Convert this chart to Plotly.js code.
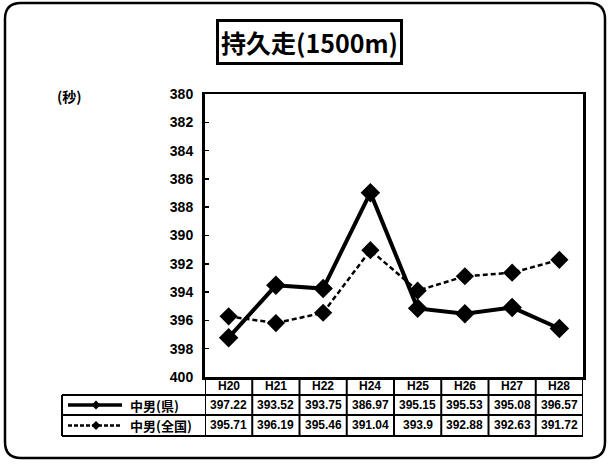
<!DOCTYPE html>
<html>
<head>
<meta charset="utf-8">
<script src="https://cdn.plot.ly/plotly-3.0.1.min.js"></script>
<style>html,body{margin:0;padding:0;background:#fff;}#chart{width:609px;height:465px;}</style>
</head>
<body>
<div id="chart"></div>
<script>
var categories = ["H20", "H21", "H22", "H24", "H25", "H26", "H27", "H28"];
var seriesNames = ["中男(県)", "中男(全国)"];
var prefValues = [397.22, 393.52, 393.75, 386.97, 395.15, 395.53, 395.08, 396.57];
var nationalValues = [395.71, 396.19, 395.46, 391.04, 393.9, 392.88, 392.63, 391.72];
var yTicks = [380, 382, 384, 386, 388, 390, 392, 394, 396, 398, 400];
var chartTitle = "持久走(1500m)";
var unitLabel = "(秒)";

// pixel geometry helpers
var L = 205, R = 583, T = 94, B = 377;
function px(x) { return (x - L) / (R - L); }
function py(y) { return (B - y) / (B - T); }

var FONT = "Liberation Sans, Arial, Noto Sans CJK JP, sans-serif";
var CJK = "Noto Sans CJK JP, sans-serif";

var traces = [
  {
    x: categories, y: prefValues, name: seriesNames[0], type: "scatter", mode: "lines+markers",
    line: {color: "#000", width: 4},
    marker: {symbol: "diamond", size: 15, color: "#000"},
    cliponaxis: false
  },
  {
    x: categories, y: nationalValues, name: seriesNames[1], type: "scatter", mode: "lines+markers",
    line: {color: "#000", width: 2.5, dash: "5px,3px"},
    marker: {symbol: "diamond", size: 14, color: "#000"},
    cliponaxis: false
  }
];

var shapes = [];
var annotations = [];

// outer rounded frame
(function () {
  var x0 = 5, y0 = 3, x1 = 605, y1 = 458, r = 16;
  var p = "M " + px(x0 + r) + "," + py(y0) +
    " L " + px(x1 - r) + "," + py(y0) +
    " Q " + px(x1) + "," + py(y0) + " " + px(x1) + "," + py(y0 + r) +
    " L " + px(x1) + "," + py(y1 - r) +
    " Q " + px(x1) + "," + py(y1) + " " + px(x1 - r) + "," + py(y1) +
    " L " + px(x0 + r) + "," + py(y1) +
    " Q " + px(x0) + "," + py(y1) + " " + px(x0) + "," + py(y1 - r) +
    " L " + px(x0) + "," + py(y0 + r) +
    " Q " + px(x0) + "," + py(y0) + " " + px(x0 + r) + "," + py(y0) + " Z";
  shapes.push({type: "path", xref: "paper", yref: "paper", path: p, line: {color: "#000", width: 2.5}});
})();

// table geometry
var rowY = [377, 395, 415, 436];
var tableLeft = 62;
var lw = 2;
shapes.push({type: "line", xref: "paper", yref: "paper", x0: px(tableLeft), x1: 1, y0: py(rowY[1]), y1: py(rowY[1]), line: {color: "#000", width: lw}});
shapes.push({type: "line", xref: "paper", yref: "paper", x0: px(tableLeft), x1: 1, y0: py(rowY[2]), y1: py(rowY[2]), line: {color: "#000", width: lw}});
shapes.push({type: "line", xref: "paper", yref: "paper", x0: px(tableLeft), x1: 1, y0: py(rowY[3]), y1: py(rowY[3]), line: {color: "#000", width: lw}});
shapes.push({type: "line", xref: "paper", yref: "paper", x0: px(tableLeft), x1: px(tableLeft), y0: py(rowY[1]), y1: py(rowY[3]), line: {color: "#000", width: lw}});
for (var i = 0; i <= categories.length; i++) {
  shapes.push({type: "line", xref: "x", yref: "paper", x0: i - 0.5, x1: i - 0.5, y0: 0, y1: py(rowY[3]), line: {color: "#000", width: lw}});
}

// legend samples
function legendSample(rowTop, rowBot, dash, width, size) {
  var yc = (rowTop + rowBot) / 2;
  shapes.push({type: "line", xref: "paper", yref: "paper", x0: px(68), x1: px(122), y0: py(yc), y1: py(yc), line: {color: "#000", width: width, dash: dash}});
  var cx = 96, h = size / 2;
  var p = "M " + px(cx - h) + "," + py(yc) + " L " + px(cx) + "," + py(yc - h) + " L " + px(cx + h) + "," + py(yc) + " L " + px(cx) + "," + py(yc + h) + " Z";
  shapes.push({type: "path", xref: "paper", yref: "paper", path: p, fillcolor: "#000", line: {color: "#000", width: 0}});
}
legendSample(rowY[1], rowY[2], "solid", 3.5, 9);
legendSample(rowY[2], rowY[3], "4px,2px", 2.5, 9);

annotations.push({xref: "paper", yref: "paper", x: px(128), y: py((rowY[1] + rowY[2]) / 2), xanchor: "left", yanchor: "middle", showarrow: false, text: "<b>" + seriesNames[0] + "</b>", font: {family: CJK, size: 13, color: "#000"}});
annotations.push({xref: "paper", yref: "paper", x: px(128), y: py((rowY[2] + rowY[3]) / 2), xanchor: "left", yanchor: "middle", showarrow: false, text: "<b>" + seriesNames[1] + "</b>", font: {family: CJK, size: 13, color: "#000"}});

// table cells
for (var j = 0; j < categories.length; j++) {
  annotations.push({xref: "x", yref: "paper", x: j, y: py((rowY[0] + rowY[1]) / 2), showarrow: false, xanchor: "center", yanchor: "middle", text: "<b>" + categories[j] + "</b>", font: {family: FONT, size: 12, color: "#000"}});
  annotations.push({xref: "x", yref: "paper", x: j, y: py((rowY[1] + rowY[2]) / 2), showarrow: false, xanchor: "center", yanchor: "middle", text: "<b>" + String(prefValues[j]) + "</b>", font: {family: FONT, size: 12, color: "#000"}});
  annotations.push({xref: "x", yref: "paper", x: j, y: py((rowY[2] + rowY[3]) / 2), showarrow: false, xanchor: "center", yanchor: "middle", text: "<b>" + String(nationalValues[j]) + "</b>", font: {family: FONT, size: 12, color: "#000"}});
}

// title box
annotations.push({xref: "paper", yref: "paper", x: px(309), y: py(42), xanchor: "center", yanchor: "middle", showarrow: false,
  text: "<b>" + chartTitle + "</b>", font: {family: CJK, size: 25, color: "#000"},
  bordercolor: "#000", borderwidth: 3, borderpad: 2, bgcolor: "#fff"});
// unit label
annotations.push({xref: "paper", yref: "paper", x: px(55), y: py(96), xanchor: "left", yanchor: "middle", showarrow: false,
  text: "<b>" + unitLabel + "</b>", font: {family: CJK, size: 14, color: "#000"}});

var layout = {
  width: 609, height: 465,
  margin: {l: L, r: 609 - R, t: T, b: 465 - B},
  paper_bgcolor: "#fff", plot_bgcolor: "#fff",
  showlegend: false,
  xaxis: {type: "category", range: [-0.5, categories.length - 0.5], showticklabels: false, ticks: "",
    showgrid: false, zeroline: false, showline: true, linecolor: "#000", linewidth: 2.5, mirror: true, fixedrange: true},
  yaxis: {range: [400, 380], tickvals: yTicks, ticktext: yTicks.map(function (v) { return "<b>" + v + "</b>"; }),
    ticks: "inside", ticklen: 4, tickwidth: 1.5, tickcolor: "#000", ticklabelstandoff: 6,
    tickfont: {family: FONT, size: 14, color: "#000"},
    showgrid: false, zeroline: false, showline: true, linecolor: "#000", linewidth: 3, mirror: true, fixedrange: true},
  shapes: shapes,
  annotations: annotations
};

Plotly.newPlot("chart", traces, layout, {displayModeBar: false, staticPlot: true});
</script>
</body>
</html>
